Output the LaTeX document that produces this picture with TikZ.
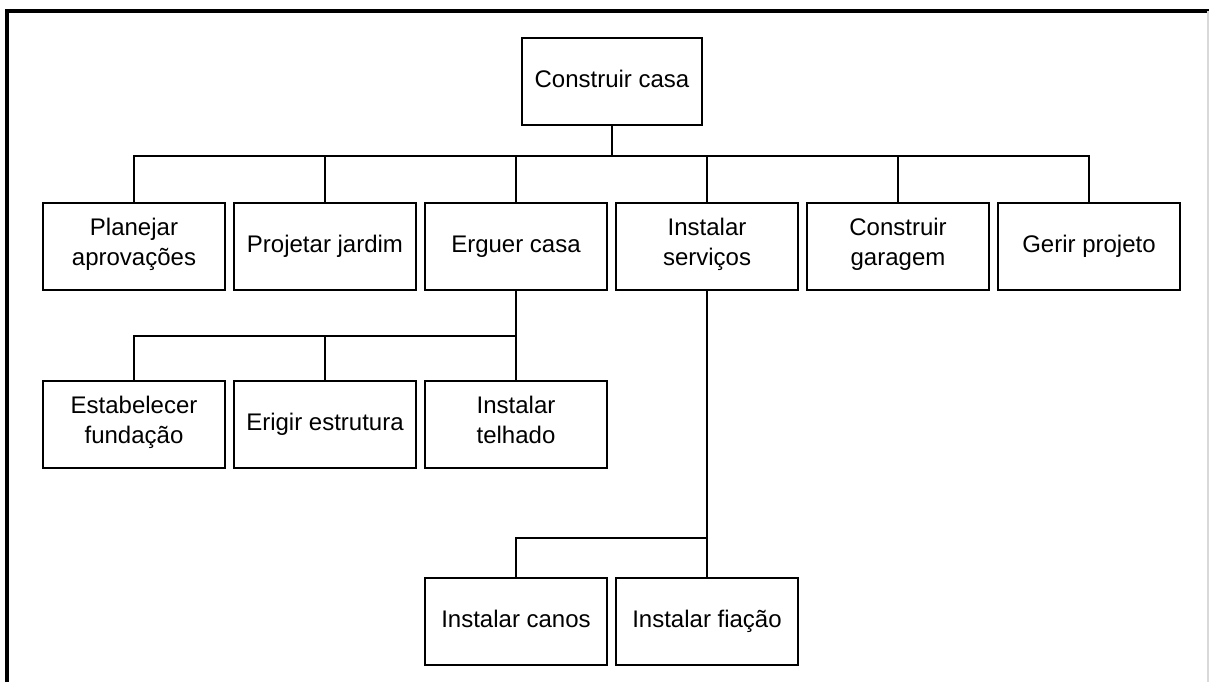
\documentclass[tikz,border=0pt]{standalone}
\usepackage{fontspec}
\setmainfont{Liberation Sans}
\usetikzlibrary{positioning}

\begin{document}
\begin{tikzpicture}[x=0.5pt, y=-0.5pt, node distance=4.5pt, every node/.style={draw, line width=0.9pt, outer sep=0pt, minimum width=91pt, minimum height=43.5pt, inner sep=2pt, align=center, execute at begin node=\strut, execute at end node=\strut, font=\fontsize{12}{15}\selectfont}]
      \useasboundingbox (0,0) rectangle (1209,682);
      \draw[line width=1.6pt] (7,682) -- (7,11) -- (1209,11);
      \draw[black!15, line width=0.6pt] (1208,11) -- (1208,682);
      \node (cc) [minimum width=90pt] at (612,81.5) {Construir casa};
      \node (pa) at (134,246.5) {Planejar\\aprovações};
      \node (pj) [right=of pa] {Projetar jardim};
      \node (ec) [right=of pj] {Erguer casa};
      \node (is) [right=of ec] {Instalar\\serviços};
      \node (cg) [right=of is] {Construir\\garagem};
      \node (gp) [right=of cg] {Gerir projeto};
      \node (ef) [below=45.5pt of pa] {Estabelecer\\fundação};
      \node (ee) [right=of ef] {Erigir estrutura};
      \node (it) [right=of ee] {Instalar\\telhado};
      \node (ic) [below=55pt of it] {Instalar canos};
      \node (if) [right=of ic] {Instalar fiação};
      \coordinate [below=15.5pt of cc] (b1);
      \coordinate [below=23pt of ec] (b2);
      \coordinate [below=124pt of is] (b3);
      \draw[line width=0.75pt] (cc) -- (b1);
      \draw[line width=0.75pt] (pa.north) |- (b1);
      \draw[line width=0.75pt] (pj.north) |- (b1);
      \draw[line width=0.75pt] (ec.north) |- (b1);
      \draw[line width=0.75pt] (is.north) |- (b1);
      \draw[line width=0.75pt] (cg.north) |- (b1);
      \draw[line width=0.75pt] (gp.north) |- (b1);
      \draw[line width=0.75pt] (ec) -- (b2);
      \draw[line width=0.75pt] (ef.north) |- (b2);
      \draw[line width=0.75pt] (ee.north) |- (b2);
      \draw[line width=0.75pt] (it.north) -- (b2);
      \draw[line width=0.75pt] (is) -- (b3);
      \draw[line width=0.75pt] (ic.north) |- (b3);
      \draw[line width=0.75pt] (if.north) -- (b3);
    \end{tikzpicture}
\end{document}
